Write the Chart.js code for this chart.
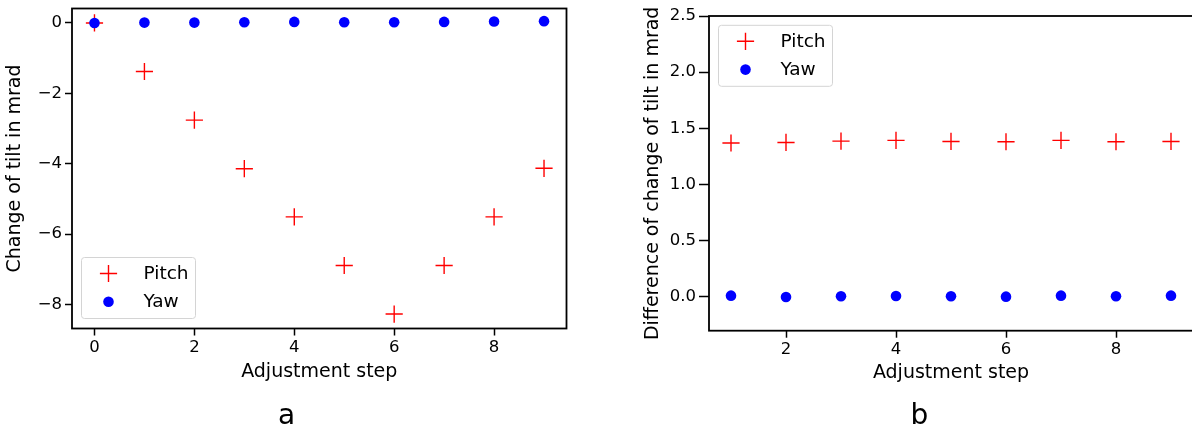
<!DOCTYPE html>
<html>
<head>
<meta charset="utf-8">
<script src="https://cdn.jsdelivr.net/npm/chart.js@4.4.1/dist/chart.umd.min.js"></script>
<style>
  html, body { margin: 0; padding: 0; background: #fff; overflow: hidden; width: 1192px; height: 430px; }
  .box { position: absolute; top: 0; width: 600px; height: 430px; }
  #boxA { left: 0; }
  #boxB { left: 600px; }
  .tag { position: absolute; top: 401px; font: 28px 'DejaVu Sans'; line-height: 28px; transform: translateX(-50%); color: #000; }
</style>
</head>
<body>
<div class="box" id="boxA"><canvas id="chartA" width="600" height="430"></canvas></div>
<div class="box" id="boxB"><canvas id="chartB" width="600" height="430"></canvas></div>
<div class="tag" style="left:286.5px">a</div>
<div class="tag" style="left:919.5px">b</div>
<script>
// panel a: change of tilt per adjustment step
const steps = [0, 1, 2, 3, 4, 5, 6, 7, 8, 9];
const pitchTilt = [0, -1.38, -2.76, -4.14, -5.51, -6.89, -8.27, -6.89, -5.51, -4.13];
const yawTilt = [0, 0.01, 0.01, 0.02, 0.03, 0.02, 0.02, 0.03, 0.04, 0.05];

// panel b: difference between consecutive steps
const diffSteps = [1, 2, 3, 4, 5, 6, 7, 8, 9];
const pitchDiff = [1.37, 1.375, 1.387, 1.393, 1.384, 1.381, 1.393, 1.381, 1.384];
const yawDiff = [0.012, 0.0, 0.006, 0.009, 0.006, 0.003, 0.012, 0.006, 0.012];

const xTicksA = [0, 2, 4, 6, 8];
const yTicksA = [-8, -6, -4, -2, 0];
const xTicksB = [2, 4, 6, 8];
const yTicksB = [0, 0.5, 1, 1.5, 2, 2.5];

Chart.defaults.font.family = 'DejaVu Sans';
Chart.defaults.color = '#000';

const RED = '#ff0000', BLUE = '#0000ff';

function points(xs, ys) {
  return xs.map((x, i) => ({x: x, y: ys[i]}));
}

function datasets(xs, pitch, yaw) {
  return [{
    label: 'Pitch',
    data: points(xs, pitch),
    pointStyle: 'cross',
    pointRadius: 8.6,
    pointHoverRadius: 8.6,
    borderColor: RED,
    backgroundColor: RED,
    borderWidth: 1.4,
    order: 2
  }, {
    label: 'Yaw',
    data: points(xs, yaw),
    pointStyle: 'circle',
    pointRadius: 5.3,
    pointHoverRadius: 5.3,
    borderColor: BLUE,
    backgroundColor: BLUE,
    borderWidth: 0,
    order: 1
  }];
}

// matplotlib-like box around the axes
const framePlugin = {
  id: 'frame',
  afterDatasetsDraw(chart) {
    const {ctx, chartArea: a} = chart;
    ctx.save();
    ctx.strokeStyle = '#000';
    ctx.lineWidth = 1.8;
    ctx.strokeRect(a.left, a.top, a.right - a.left, a.bottom - a.top);
    ctx.restore();
  }
};

// legend inside the axes, with a light rounded frame
const boxLegend = {
  id: 'boxLegend',
  afterDraw(chart, args, o) {
    const {ctx, chartArea: a} = chart;
    const w = 114, h = 61;
    const x0 = a.left + 9.5;
    const y0 = o.corner === 'bottom' ? a.bottom - 10 - h : a.top + 9.3;
    ctx.save();
    ctx.beginPath();
    ctx.roundRect(x0, y0, w, h, 3);
    ctx.fillStyle = 'rgba(255,255,255,0.8)';
    ctx.fill();
    ctx.strokeStyle = '#d4d4d4';
    ctx.lineWidth = 1;
    ctx.stroke();
    chart.data.datasets.forEach((ds, i) => {
      const cy = y0 + 16 + i * 28.3;
      ctx.fillStyle = ds.backgroundColor;
      ctx.strokeStyle = ds.borderColor;
      ctx.lineWidth = ds.borderWidth;
      Chart.helpers.drawPoint(ctx, {pointStyle: ds.pointStyle, radius: ds.pointRadius, borderWidth: ds.borderWidth, rotation: 0}, x0 + 27, cy);
      ctx.fillStyle = '#000';
      ctx.font = '18.5px "DejaVu Sans"';
      ctx.textBaseline = 'middle';
      ctx.textAlign = 'left';
      ctx.fillText(ds.label, x0 + 62, cy + 0.5);
    });
    ctx.restore();
  }
};

function scales(p) {
  return {
    x: {
      type: 'linear',
      min: p.xMin,
      max: p.xMax,
      afterBuildTicks: s => { s.ticks = p.xTicks.map(v => ({value: v})); },
      afterFit: s => { s.height = p.xHeight; s.paddingLeft = 0; s.paddingRight = 0; },
      ticks: {font: {size: 16.5}, padding: 2, callback: v => String(v)},
      grid: {display: true, drawOnChartArea: false, drawTicks: true, tickLength: 7, tickWidth: 1.5, tickColor: '#000'},
      border: {display: false},
      title: {display: true, text: 'Adjustment step', font: {size: 19}, padding: {top: 0, bottom: p.xTitlePad}}
    },
    y: {
      type: 'linear',
      min: p.yMin,
      max: p.yMax,
      afterBuildTicks: s => { s.ticks = p.yTicks.map(v => ({value: v})); },
      afterFit: s => { s.width = p.yWidth; s.paddingTop = 0; s.paddingBottom = 0; },
      ticks: {font: {size: 16.5}, padding: 3, callback: p.yFmt},
      grid: {display: true, drawOnChartArea: false, drawTicks: true, tickLength: p.yTickLen, tickWidth: 1.5, tickColor: '#000'},
      border: {display: false},
      title: {display: true, text: p.yTitle, font: {size: 19}, padding: {top: p.yTitlePad, bottom: 0}}
    }
  };
}

const chartA = new Chart(document.getElementById('chartA').getContext('2d'), {
  type: 'scatter',
  data: {datasets: datasets(steps, pitchTilt, yawTilt)},
  options: {
    responsive: false,
    animation: false,
    layout: {autoPadding: false, padding: {top: 8.5, right: 33.5, bottom: 0, left: 0}},
    plugins: {legend: {display: false}, tooltip: {enabled: false}, boxLegend: {corner: 'bottom'}},
    scales: scales({
      xMin: -0.45, xMax: 9.45, xTicks: xTicksA, xHeight: 101.5, xTitlePad: 46.9,
      yMin: -8.68, yMax: 0.41, yTicks: yTicksA, yWidth: 72, yTickLen: 7, yTitlePad: 3.7,
      yTitle: 'Change of tilt in mrad',
      yFmt: v => (v < 0 ? '\u2212' : '') + Math.abs(v)
    })
  },
  plugins: [framePlugin, boxLegend]
});

const chartB = new Chart(document.getElementById('chartB').getContext('2d'), {
  type: 'scatter',
  data: {datasets: datasets(diffSteps, pitchDiff, yawDiff)},
  options: {
    responsive: false,
    animation: false,
    layout: {autoPadding: false, padding: {top: 16, right: 7, bottom: 0, left: 0}},
    plugins: {legend: {display: false}, tooltip: {enabled: false}, boxLegend: {corner: 'top'}},
    scales: scales({
      xMin: 0.6, xMax: 9.4, xTicks: xTicksB, xHeight: 99.3, xTitlePad: 45.9,
      yMin: -0.3, yMax: 2.5, yTicks: yTicksB, yWidth: 109, yTickLen: 10, yTitlePad: 42,
      yTitle: 'Difference of change of tilt in mrad',
      yFmt: v => v.toFixed(1)
    })
  },
  plugins: [framePlugin, boxLegend]
});
</script>
</body>
</html>
